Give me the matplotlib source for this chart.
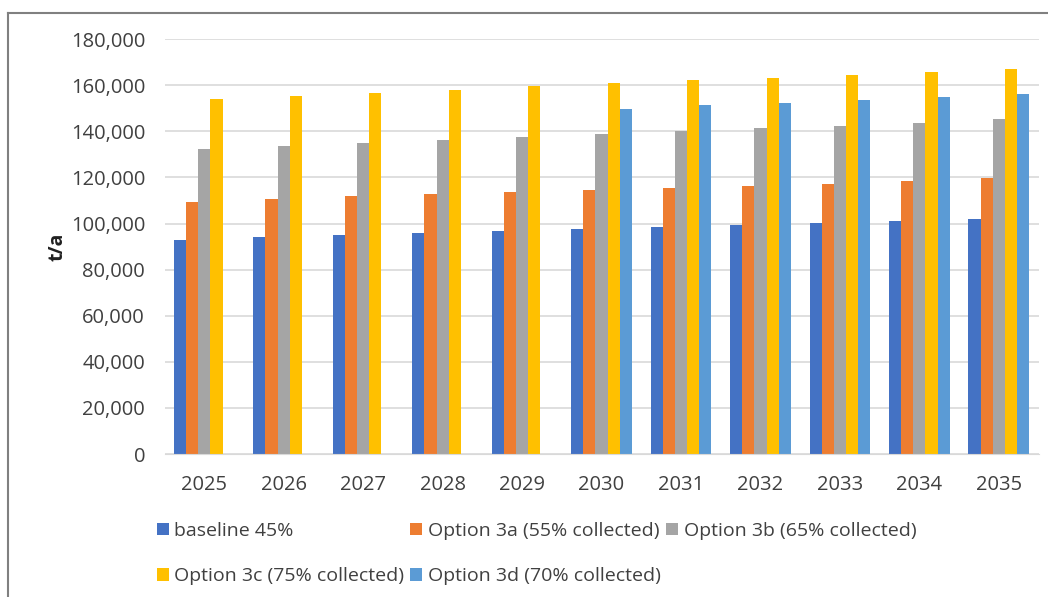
import matplotlib.pyplot as plt
import numpy as np
from matplotlib.lines import Line2D
from matplotlib.ticker import FuncFormatter

years = ["2025", "2026", "2027", "2028", "2029", "2030",
         "2031", "2032", "2033", "2034", "2035"]
baseline = [92.8, 94.1, 94.9, 95.8, 96.7, 97.5, 98.5, 99.5, 100.3, 101.1, 102.0]
opt_3a = [109.5, 110.5, 111.8, 112.7, 113.6, 114.6, 115.6, 116.3, 117.2, 118.5, 119.6]
opt_3b = [132.3, 133.6, 134.9, 136.2, 137.5, 138.8, 140.1, 141.6, 142.5, 143.8, 145.2]
opt_3c = [153.8, 155.2, 156.8, 158.1, 159.7, 160.9, 162.2, 163.2, 164.3, 165.8, 167.1]
opt_3d = [None, None, None, None, None, 149.7, 151.2, 152.3, 153.6, 155.1, 156.4]

labels = ["baseline 45%", "Option 3a (55% collected)", "Option 3b (65% collected)",
          "Option 3c (75% collected)", "Option 3d (70% collected)"]
colors = ["#4472C4", "#ED7D31", "#A5A5A5", "#FFC000", "#5B9BD5"]

plt.rcParams["font.family"] = ["Open Sans", "DejaVu Sans"]

fig = plt.figure(figsize=(10.48, 5.97), dpi=100)
ax = fig.add_axes([0.157, 0.2395, 0.834, 0.695])

series = [baseline, opt_3a, opt_3b, opt_3c, opt_3d]
x = np.arange(len(years))
w = 0.153
bars = []
for j, vals in enumerate(series):
    # values are in thousand t/a, missing years stay empty
    v = np.array([np.nan if s is None else s * 1000 for s in vals])
    b = ax.bar(x + (j - 2) * w, v, width=w, color=colors[j], label=labels[j])
    bars.append(b)

ax.set_xlim(-0.5, len(years) - 0.5)
ax.set_ylim(0, 180000)
ax.set_yticks(np.arange(0, 180001, 20000))
ax.yaxis.set_major_formatter(FuncFormatter(lambda v, p: f"{int(v):,}"))
ax.set_xticks(x)
ax.set_xticklabels(years)
ax.grid(axis="y", color="#d9d9d9", linewidth=1.2)
ax.set_axisbelow(True)
for s in ["top", "right", "left"]:
    ax.spines[s].set_visible(False)
ax.spines["bottom"].set_color("#d9d9d9")
ax.tick_params(axis="both", length=0, labelsize=14.5, colors="#404040")
ax.tick_params(axis="y", pad=14)
ax.tick_params(axis="x", pad=15)
ax.set_ylabel("t/a", fontsize=14, fontweight="bold", color="#202020", labelpad=2)

# legend rows: baseline, 3a, 3b / 3c, 3d
order = [0, 3, 1, 4, 2]
leg = fig.legend([bars[i] for i in order], [labels[i] for i in order],
                 ncol=3, loc="upper left", bbox_to_anchor=(0.133, 0.155),
                 frameon=False, fontsize=14, handlelength=0.6, handleheight=0.6,
                 handletextpad=0.3, columnspacing=0.3, labelspacing=1.4,
                 labelcolor="#404040")

# outer chart border
fig.add_artist(Line2D([0.0076, 1.0], [0.978, 0.978], color="#808080", linewidth=1.5))
fig.add_artist(Line2D([0.0076, 0.0076], [0.0, 0.978], color="#808080", linewidth=1.5))

fig.savefig("out.png", dpi=100)
